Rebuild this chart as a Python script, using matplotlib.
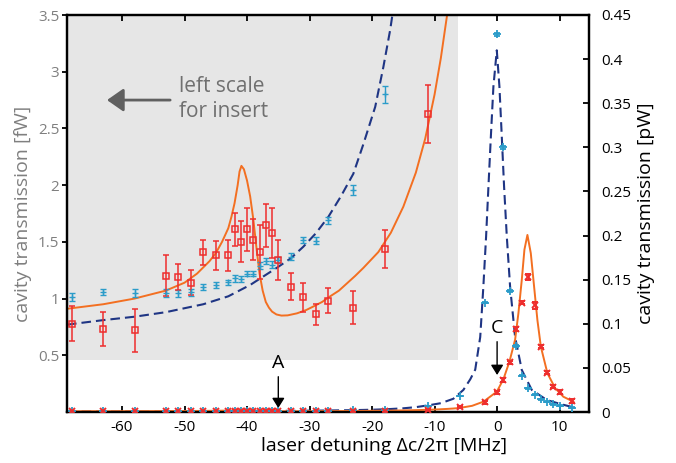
import numpy as np
import matplotlib
matplotlib.use("Agg")  # no display
import matplotlib.pyplot as plt
from matplotlib.patches import Rectangle

plt.rcParams['font.family'] = ['Open Sans', 'DejaVu Sans']
plt.rcParams['axes.unicode_minus'] = False

# measured points, transmission in fW (main axis shows them in pW)
det_x = [-68, -63, -58, -53, -51, -49, -47, -45, -43, -42,
         -41, -40, -39, -38, -37, -36, -35, -33, -31, -29,
         -27, -23, -18, -11, -6, -2, 0, 1, 2, 3,
         4, 5, 6, 7, 8, 9, 10, 12]
red_fw = [0.78, 0.73, 0.72, 1.20, 1.19, 1.14, 1.41, 1.38, 1.38, 1.61,
          1.50, 1.61, 1.52, 1.41, 1.645, 1.58, 1.34, 1.105, 1.01, 0.86,
          0.98, 0.92, 1.44, 2.63, 5.3, 11, 22.3, 36.3, 56.3, 94,
          124, 153, 121, 74, 44.6, 28.7, 22.7, 12.5]
red_err_fw = [0.157, 0.15, 0.19, 0.18, 0.115, 0.11, 0.11, 0.125, 0.14, 0.146,
              0.18, 0.19, 0.18, 0.24, 0.19, 0.22, 0.18, 0.118, 0.127, 0.09,
              0.11, 0.145, 0.167, 0.255, 1, 1.5, 2, 2, 2, 2,
              2, 3, 4, 2, 2, 2, 2, 2]
blue_fw = [1.017, 1.058, 1.052, 1.046, 1.046, 1.055, 1.10, 1.12, 1.143, 1.18,
           1.175, 1.22, 1.22, 1.29, 1.33, 1.30, 1.34, 1.37, 1.516, 1.51,
           1.69, 1.957, 2.80, 7, 18, 124, 428, 300, 137.5, 75,
           41, 27, 19.5, 14.4, 11.7, 9.0, 7.2, 5.0]
blue_err_fw = [0.035, 0.03, 0.035, 0.035, 0.03, 0.03, 0.025, 0.025, 0.025, 0.03,
               0.025, 0.025, 0.025, 0.03, 0.025, 0.03, 0.03, 0.03, 0.03, 0.03,
               0.03, 0.04, 0.075, 0.1, 0.3, 1, 2, 1.5, 1, 1,
               0.5, 0.5, 0.5, 0.5, 0.5, 0.5, 0.5, 0.5]

# fit curves (fW)
blue_fit_x = [-68.8, -63, -58, -53, -47, -43, -39.5, -35, -33, -31,
              -29, -27, -25, -23, -21.4, -19.5, -18.2, -17.1, -16.75, -15,
              -13, -10.7, -9, -7, -5.4, -4.3, -3.5, -2.7, -2.2, -1.76,
              -1.39, -1.0, -0.59, -0.05, 0.37, 0.75, 1.12, 1.55, 2.08, 2.88,
              3.95, 5.55, 7.95, 10.1, 12.2]
blue_fit_fw = [0.77, 0.81, 0.84, 0.88, 0.95, 1.02, 1.12, 1.28, 1.355, 1.457,
               1.575, 1.72, 1.90, 2.10, 2.36, 2.69, 3.04, 3.37, 3.5, 4.2,
               5.5, 7.9, 10, 15, 25, 37, 48, 85, 142, 199,
               255, 312, 369, 410, 369, 312, 255, 199, 142, 85,
               47.6, 25, 13.6, 9.1, 5.3]
orange_fit_x = [-68.8, -63, -58, -53, -50, -48, -46, -45, -44, -43,
                -42.5, -42, -41.5, -41.2, -40.9, -40.5, -40.0, -39.5, -39.0, -38.5,
                -38.0, -37.5, -37.0, -36.5, -36.0, -35.3, -34.5, -33.5, -32, -30.5,
                -29.4, -28, -26.7, -25.3, -24, -22.7, -21.4, -19, -17, -15,
                -13, -11.5, -10, -9, -8, -7, -6, -4, -2.19, -0.05,
                1.0, 1.97, 2.88, 3.41, 3.95, 4.37, 4.85, 5.39, 5.92, 6.45,
                7.0, 8.05, 9.3, 10.6, 12.2]
orange_fit_fw = [0.91, 0.95, 1.00, 1.07, 1.14, 1.22, 1.33, 1.40, 1.50, 1.62,
                 1.72, 1.84, 2.00, 2.12, 2.17, 2.14, 2.04, 1.90, 1.70, 1.45,
                 1.22, 1.07, 0.97, 0.92, 0.885, 0.86, 0.85, 0.852, 0.87, 0.90,
                 0.93, 0.97, 1.02, 1.07, 1.135, 1.20, 1.27, 1.41, 1.58, 1.81,
                 2.11, 2.41, 2.80, 3.12, 3.50, 3.95, 4.6, 7.0, 11.7, 23,
                 37, 57, 82, 112, 150, 184, 200.7, 180, 142, 104,
                 74, 43.9, 26.9, 17.3, 11.7]

xticks = [-60, -50, -40, -30, -20, -10, 0, 10]
left_ticks = [0.5, 1, 1.5, 2, 2.5, 3, 3.5]
right_ticks = [0, 0.05, 0.1, 0.15, 0.2, 0.25, 0.3, 0.35, 0.4, 0.45]
right_labels = ['0', '0.05', '0.1', '0.15', '0.2', '0.25', '0.3', '0.35', '0.4', '0.45']

RED = '#ee2e2e'
CYAN = '#2b9cc9'
NAVY = '#1f3584'
ORANGE = '#f36f21'
GREY = '#7f7f7f'

det_x = np.array(det_x, dtype=float)
red_fw = np.array(red_fw)
red_err_fw = np.array(red_err_fw)
blue_fw = np.array(blue_fw)
blue_err_fw = np.array(blue_err_fw)

fig = plt.figure(figsize=(6.76, 4.63), dpi=100)
ax = fig.add_axes([67 / 676, 1 - 412 / 463, 522 / 676, 397 / 463])
ax2 = ax.twinx()

ax.set_xlim(-68.8, 14.7)
ax.set_ylim(0, 3.5)
ax2.set_ylim(0, 0.45)

# insert: grey box, left scale in fW
box = Rectangle((-68.8, 0.46), -6.2 + 68.8, 3.5 - 0.46, facecolor='#e6e6e6',
                edgecolor='none', zorder=0)
ax.add_patch(box)

DASH = (4.6, 2.4)
ins = det_x < -6.2
l1, = ax.plot(blue_fit_x, blue_fit_fw, color=NAVY, lw=1.5, dashes=DASH, zorder=2)
l2, = ax.plot(orange_fit_x, orange_fit_fw, color=ORANGE, lw=1.4, zorder=2)
for ln in (l1, l2):
    ln.set_clip_path(box)
ax.errorbar(det_x[ins], blue_fw[ins], yerr=blue_err_fw[ins], fmt='+', color=CYAN,
            ms=4, mew=1.0, elinewidth=1.0, capsize=2, capthick=1.0, zorder=3)
ax.errorbar(det_x[ins], red_fw[ins], yerr=red_err_fw[ins], fmt='s', color=RED,
            mfc='none', ms=5, mew=1.1, elinewidth=1.1, capsize=2.2, capthick=1.1, zorder=3)

# main plot, right scale in pW
ax2.plot(blue_fit_x, np.array(blue_fit_fw) / 1000, color=NAVY, lw=1.5, dashes=DASH, zorder=2)
ax2.plot(orange_fit_x, np.array(orange_fit_fw) / 1000, color=ORANGE, lw=1.4, zorder=2)
ax2.errorbar(det_x, blue_fw / 1000, yerr=blue_err_fw / 1000, fmt='+', color=CYAN,
             ms=6, mew=1.3, elinewidth=1.0, capsize=2, zorder=3)
ax2.errorbar(det_x, red_fw / 1000, yerr=red_err_fw / 1000, fmt='x', color=RED,
             ms=4, mew=1.4, elinewidth=1.0, capsize=2, capthick=1.2, zorder=3)

# annotations
ax.annotate('', xy=(-62.4, 2.75), xytext=(-52.3, 2.75),
            arrowprops=dict(arrowstyle='-|>,head_length=0.4,head_width=0.28', color='#606060',
                            lw=2, mutation_scale=25, shrinkA=0, shrinkB=0))
ax.text(-50.9, 2.76, 'left scale\nfor insert', color='#707070', fontsize=15,
        ha='left', va='center', linespacing=1.25)

for xa, ytxt, y0, y1, lab in [(-35, 0.0555, 0.040, 0.0045, 'A'), (0, 0.0949, 0.0797, 0.042, 'C')]:
    ax2.text(xa, ytxt, lab, fontsize=14, ha='center', va='center')
    ax2.annotate('', xy=(xa, y1), xytext=(xa, y0),
                 arrowprops=dict(arrowstyle='-|>,head_length=0.4,head_width=0.25', color='black',
                                 lw=1.0, mutation_scale=15, shrinkA=0, shrinkB=0))

# axes styling
ax.set_xticks(xticks)
ax.set_yticks(left_ticks)
ax.set_yticklabels([f'{t:g}' for t in left_ticks])
ax2.set_yticks(right_ticks, right_labels)

ax.tick_params(axis='x', direction='in', top=True, length=4, width=1.3, labelsize=11, pad=6)
ax.tick_params(axis='y', direction='out', length=3.5, width=1.3, labelsize=11, pad=2,
               labelcolor=GREY)
ax2.tick_params(axis='y', direction='in', length=4, width=1.3, labelsize=11, pad=9)
for a in (ax, ax2):
    for s in a.spines.values():
        s.set_linewidth(1.6)

ax.set_xlabel('laser detuning Δc/2π [MHz]', fontsize=14)
ax.xaxis.set_label_coords(0.607, -0.063)
ax.set_ylabel('cavity transmission [fW]', fontsize=14, color=GREY)
ax2.set_ylabel('cavity transmission [pW]', fontsize=14)

fig.savefig('out.png', dpi=100)
